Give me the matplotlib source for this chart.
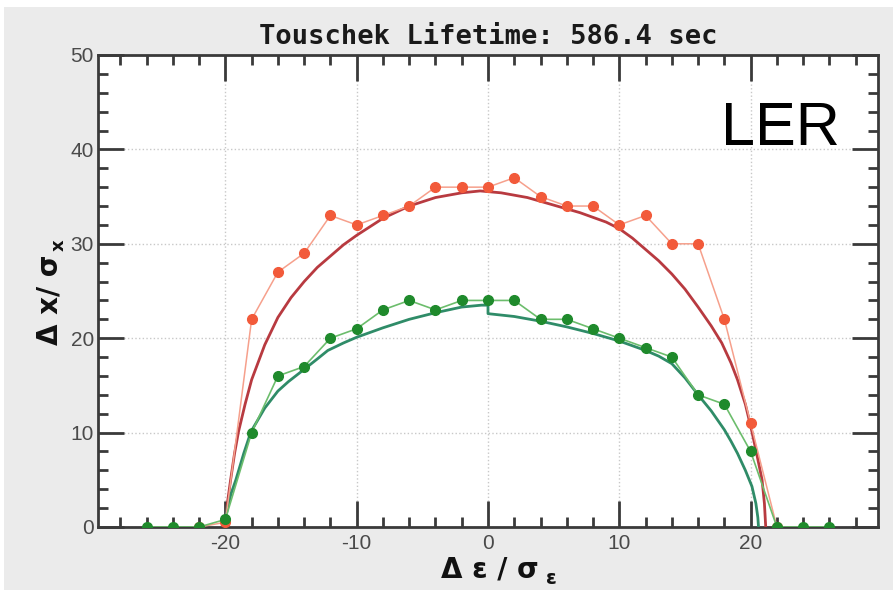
import matplotlib
matplotlib.use("Agg")
import matplotlib.pyplot as plt
from matplotlib.patches import Rectangle

# simulated aperture points (every 2 sigma_e)
red_x = [-22, -20, -18, -16, -14, -12, -10, -8, -6, -4, -2, 0, 2, 4, 6, 8, 10, 12, 14, 16, 18, 20, 22]
red_y = [0, 0.5, 22, 27, 29, 33, 32, 33, 34, 36, 36, 36, 37, 35, 34, 34, 32, 33, 30, 30, 22, 11, 0]

green_x = [-26, -24, -22, -20, -18, -16, -14, -12, -10, -8, -6, -4, -2, 0, 2, 4, 6, 8, 10, 12, 14, 16, 18, 20, 22, 24, 26]
green_y = [0, 0, 0, 0.8, 10, 16, 17, 20, 21, 23, 24, 23, 24, 24, 24, 22, 22, 21, 20, 19, 18, 14, 13, 8, 0, 0, 0]

# smooth reference curves
red_curve_x = [-20.0, -19.85, -19.6, -19.3, -19.0, -18.5, -18.0, -17.0, -16.0, -15.0, -14.0, -13.0, -12.0,
               -11.0, -10.0, -8.0, -6.0, -4.0, -2.0, -0.6, 1.0, 3.0, 5.0, 7.0, 9.0, 10.0, 11.0, 12.0, 13.0,
               14.0, 15.0, 16.0, 17.0, 17.8, 18.5, 19.0, 19.6, 20.1, 20.5, 20.87, 21.05, 21.15]
red_curve_y = [0, 2.5, 5.0, 7.8, 10.1, 13.0, 15.6, 19.3, 22.2, 24.3, 26.0, 27.5, 28.7,
               29.9, 30.9, 32.7, 34.0, 34.9, 35.4, 35.6, 35.4, 34.9, 34.1, 33.3, 32.3, 31.6, 30.6, 29.4, 28.2,
               26.8, 25.2, 23.3, 21.3, 19.5, 17.4, 15.6, 13.0, 10.1, 7.5, 5.0, 2.5, 0]

green_curve_x = [-20.07, -19.85, -19.55, -19.2, -18.6, -18.05, -17.0, -16.0, -15.2, -14.0, -13.0, -12.2,
                 -11.0, -10.0, -8.0, -6.0, -4.0, -2.0, -0.5, 0.0, 0.0, 2.0, 4.0, 6.0, 8.0, 10.0, 12.0,
                 13.0, 14.0, 15.0, 16.0, 17.0, 18.0, 18.5, 19.0, 19.6, 20.1, 20.4, 20.55, 20.6]
green_curve_y = [0, 2.0, 3.6, 5.0, 7.8, 10.1, 12.6, 14.4, 15.4, 16.7, 17.8, 18.7,
                 19.5, 20.1, 21.1, 22.0, 22.7, 23.3, 23.5, 23.5, 22.6, 22.3, 21.8, 21.2, 20.5, 19.7, 18.7,
                 18.1, 17.3, 15.8, 14.0, 12.3, 10.3, 9.1, 7.8, 6.0, 4.3, 2.5, 1.0, 0]

x_major = [-20, -10, 0, 10, 20]
x_labels = ["-20", "-10", "0", "10", "20"]
y_major = [0, 10, 20, 30, 40, 50]

fig = plt.figure(figsize=(8.96, 5.90), dpi=100, facecolor="white")
fig.patches.append(Rectangle((4 / 896, 0), 889 / 896, 583 / 590, transform=fig.transFigure,
                             facecolor="#ebebeb", edgecolor="none", zorder=-10))
ax = fig.add_axes([98 / 896, 63 / 590, 780 / 896, 472 / 590])

ax.plot(red_curve_x, red_curve_y, color="#b83a40", lw=2.0, zorder=3)
ax.plot(green_curve_x, green_curve_y, color="#2f8c68", lw=2.0, zorder=3)
ax.plot(red_x, red_y, color="#f6a08c", lw=1.1, marker="o", ms=7, mfc="#f25a3a", mec="#f25a3a", zorder=4)
ax.plot(green_x, green_y, color="#6cbd6c", lw=1.2, marker="o", ms=7, mfc="#1f8a2c", mec="#1f8a2c", zorder=5)

ax.set_xlim(-29.7, 29.7)
ax.set_ylim(0, 50)
ax.set_xticks(x_major)
ax.set_xticklabels(x_labels)
ax.set_xticks(range(-28, 29, 2), minor=True)
ax.set_yticks(y_major)
ax.set_yticks(range(0, 51, 2), minor=True)
ax.grid(True, which="major", color="#c8c8c8", ls=":", lw=1)

for s in ax.spines.values():
    s.set_color("#3a3a3a")
    s.set_linewidth(2)
ax.tick_params(which="both", direction="in", top=True, right=True, color="#3a3a3a", width=2)
ax.tick_params(which="major", length=19)
ax.tick_params(which="minor", length=7)
ax.tick_params(axis="x", pad=5)
ax.tick_params(axis="y", pad=3)
for lab in ax.get_xticklabels() + ax.get_yticklabels():
    lab.set_family("Liberation Sans")
    lab.set_fontsize(15)
    lab.set_color("#4a4a4a")

ax.set_title("Touschek Lifetime: 586.4 sec", family="DejaVu Sans Mono", weight="bold",
             fontsize=19.5, pad=8, color="#1a1a1a")
ax.text(0.951, 0.809, "LER", transform=ax.transAxes, ha="right", va="baseline",
        family="Liberation Sans", fontsize=44, color="black")

fig.text(50 / 896, 1 - 300 / 590, "Δ x/ σ", rotation=90, ha="center", va="center",
         fontsize=20, weight="bold", color="#111111")
fig.text(59 / 896, 1 - 245 / 590, "x", rotation=90, ha="center", va="center",
         fontsize=13, weight="bold", color="#111111")
fig.text(490 / 896, 1 - 570 / 590, "Δ ε / σ", ha="center", va="center",
         fontsize=20, weight="bold", color="#111111")
fig.text(551 / 896, 1 - 579 / 590, "ε", ha="center", va="center",
         fontsize=14, weight="bold", color="#111111")

fig.savefig("out.png", dpi=100, facecolor=fig.get_facecolor())
